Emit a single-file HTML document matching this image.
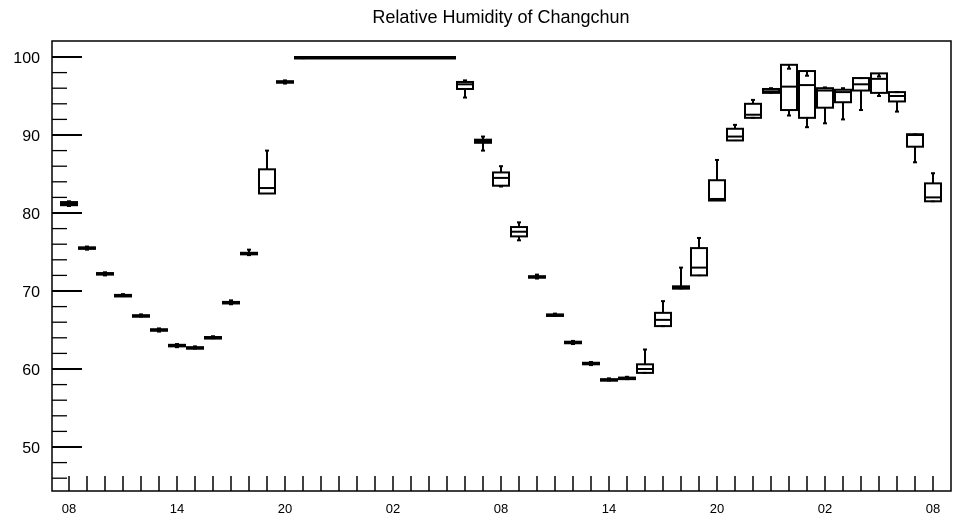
<!DOCTYPE html>
<html><head><meta charset="utf-8"><style>
html,body{margin:0;padding:0;background:#fff}
svg text{font-family:"Liberation Sans",sans-serif;fill:#000}
</style></head><body>
<svg id="chart" width="957" height="520" viewBox="0 0 957 520" xmlns="http://www.w3.org/2000/svg">
<text x="501" y="23" font-size="18" text-anchor="middle">Relative Humidity of Changchun</text>
<rect x="52" y="41" width="899" height="450" fill="none" stroke="#000" stroke-width="1.5"/>
<g id="axes"></g><g id="marks"></g>
</svg>
<script>
const mins=[80.9,75.3,72.0,69.3,66.7,64.8,62.8,62.6,63.9,68.3,74.6,82.5,96.6,99.8,100,100,100,100,100,100,100,100,94.8,88.0,83.4,76.5,71.6,66.8,63.2,60.5,58.5,58.7,59.5,65.5,70.3,72.0,81.6,89.3,92.2,95.4,92.5,91.0,91.5,92.0,93.2,95.0,93.0,86.5,81.5];
const q1s=[81.0,75.4,72.1,69.3,66.7,64.9,62.9,62.6,63.9,68.4,74.7,82.5,96.7,99.9,100,100,100,100,100,100,100,100,95.9,89.0,83.5,77.0,71.7,66.8,63.3,60.6,58.5,58.7,59.5,65.5,70.3,72.0,81.6,89.3,92.2,95.4,93.2,92.2,93.5,94.2,95.7,95.4,94.3,88.5,81.5];
const medians=[81.2,75.5,72.2,69.4,66.8,65.0,63.0,62.7,64.0,68.5,74.8,83.2,96.8,100,100,100,100,100,100,100,100,100,96.5,89.2,84.5,77.6,71.8,66.9,63.4,60.7,58.6,58.8,60.0,66.3,70.4,73.0,81.8,89.8,92.6,95.6,96.2,96.4,95.7,95.5,96.5,97.2,95.0,90.0,82.0];
const q3s=[81.4,75.6,72.3,69.5,66.9,65.1,63.1,62.8,64.1,68.6,74.9,85.6,96.9,100,100,100,100,100,100,100,100,100,96.8,89.4,85.2,78.2,71.9,67.0,63.5,60.8,58.7,58.9,60.6,67.2,70.6,75.5,84.2,90.8,94.0,95.9,99.0,98.2,96.0,95.8,97.3,97.9,95.5,90.1,83.8];
const maxs=[81.5,75.7,72.4,69.6,67.0,65.2,63.2,62.9,64.2,68.8,75.3,88.0,97.0,100,100,100,100,100,100,100,100,100,97.0,89.8,86.0,78.8,72.1,67.1,63.6,60.9,58.8,59.0,62.5,68.7,73.0,76.8,86.8,91.3,94.5,96.0,98.5,97.6,96.1,96.0,97.3,97.5,95.5,90.1,85.1];
const xTickLabels=["08","14","20","02","08","14","20","02","08"];
const yTickLabels=[50,60,70,80,90,100];
const NS="http://www.w3.org/2000/svg";
const X=i=>69+18*i, Y=v=>57+(100-v)*7.8;
function mk(p,tag,attrs){const e=document.createElementNS(NS,tag);for(const k in attrs)e.setAttribute(k,attrs[k]);p.appendChild(e);return e;}
const ax=document.getElementById('axes'), mg=document.getElementById('marks');
for(let v=46;v<=100;v+=2){const major=v%10===0;
 const t=mk(ax,'line',{x1:52,x2:major?82:67,y1:Y(v),y2:Y(v),stroke:'#000','stroke-width':major?2:1.3});
 
 }
yTickLabels.forEach(v=>{const t=mk(ax,'text',{x:40,y:Y(v)+6,'font-size':16,'text-anchor':'end'});t.textContent=v;
 
 });
for(let i=0;i<medians.length;i++){const t=mk(ax,'line',{x1:X(i),x2:X(i),y1:476,y2:491,stroke:'#000','stroke-width':1.5});
 
 }
xTickLabels.forEach((s,k)=>{const t=mk(ax,'text',{x:X(k*6),y:513,'font-size':13,'text-anchor':'middle'});t.textContent=s;
 
 });
for(let i=0;i<medians.length;i++){
 const g=mk(mg,'g',{stroke:'#000','stroke-width':2,fill:'none'});
 
 
 const x=X(i),w=8;
 mk(g,'line',{x1:x,x2:x,y1:Y(maxs[i]),y2:Y(q3s[i])});
 mk(g,'line',{x1:x,x2:x,y1:Y(q1s[i]),y2:Y(mins[i])});
 mk(g,'line',{x1:x-2,x2:x+2,y1:Y(maxs[i]),y2:Y(maxs[i])});
 mk(g,'line',{x1:x-2,x2:x+2,y1:Y(mins[i]),y2:Y(mins[i])});
 const h=Math.max(Y(q1s[i])-Y(q3s[i]),1.5);
 mk(g,'rect',{x:x-w,y:Y(q3s[i]),width:2*w,height:h});
 mk(g,'line',{x1:x-w,x2:x+w,y1:Y(medians[i]),y2:Y(medians[i])});
}
</script>
</body></html>
